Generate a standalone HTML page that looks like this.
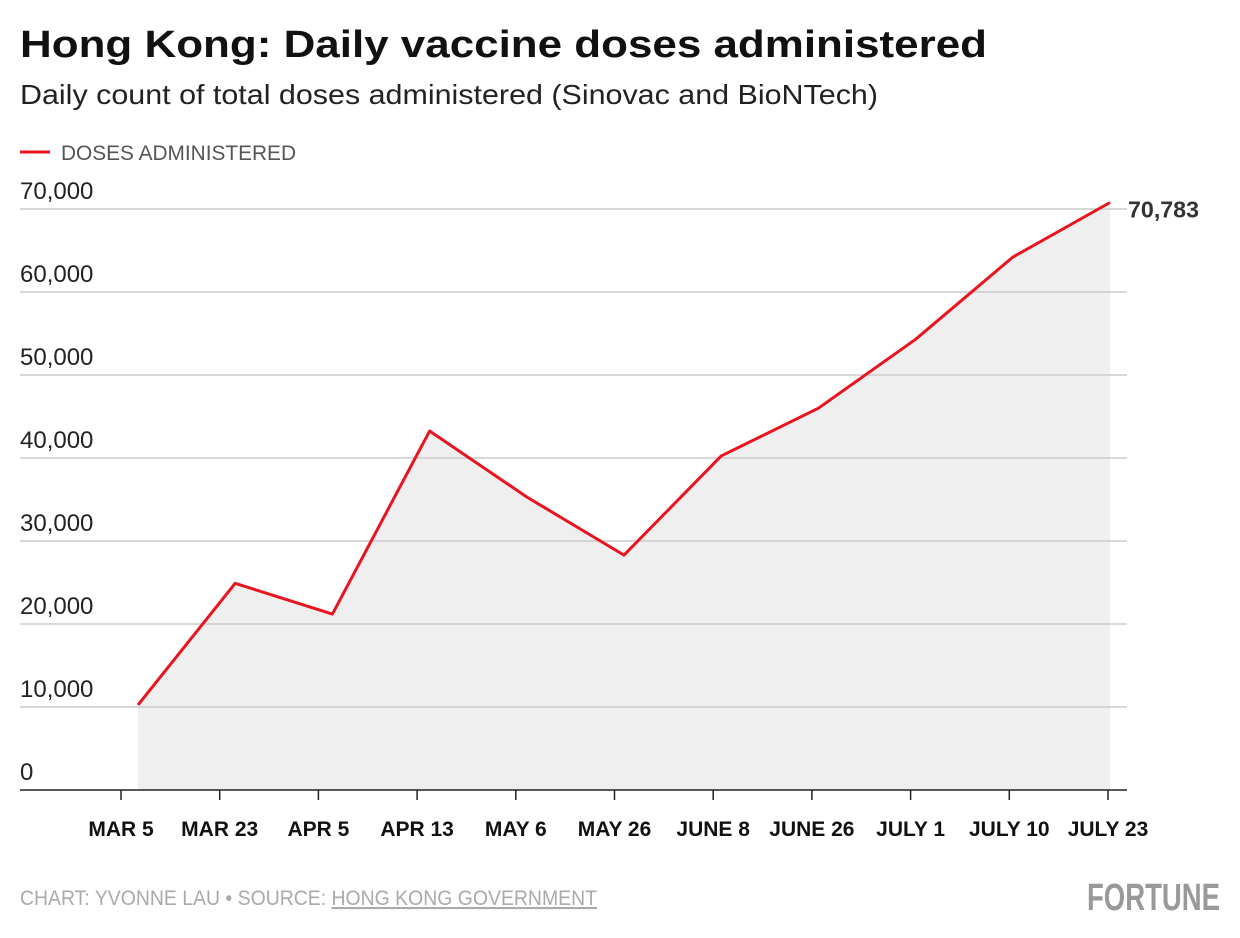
<!DOCTYPE html>
<html><head><meta charset="utf-8"><style>
html,body{margin:0;padding:0;background:#fff;}
svg{display:block;font-family:"Liberation Sans",sans-serif;}
</style></head><body>
<svg id="chart" width="1240" height="938" viewBox="0 0 1240 938">
<text x="20" y="57" font-size="38" font-weight="bold" fill="#111" textLength="967" lengthAdjust="spacingAndGlyphs">Hong Kong: Daily vaccine doses administered</text>
<text x="20" y="104" font-size="28" fill="#222" textLength="858" lengthAdjust="spacingAndGlyphs">Daily count of total doses administered (Sinovac and BioNTech)</text>
<g>
<line x1="20" y1="152" x2="50" y2="152" stroke="#e8141f" stroke-width="3"/>
<text x="61" y="160" font-size="21" fill="#555" textLength="235" lengthAdjust="spacingAndGlyphs">DOSES ADMINISTERED</text>
</g>
<path id="area" fill="#efefef"/>
<g id="grid"></g>
<g id="ylabels"></g>
<g id="xaxis"></g>
<path id="line" fill="none" stroke="#e8141f" stroke-width="3" stroke-linejoin="round"/>
<text id="endlabel" x="1128" font-size="23" font-weight="bold" fill="#333" textLength="71" lengthAdjust="spacingAndGlyphs">70,783</text>
<text x="20" y="905" font-size="21" fill="#aaa" textLength="577" lengthAdjust="spacingAndGlyphs">CHART: YVONNE LAU • SOURCE: <tspan text-decoration="underline">HONG KONG GOVERNMENT</tspan></text>
<text x="1087" y="910" font-size="38" font-weight="bold" fill="#999" textLength="133" lengthAdjust="spacingAndGlyphs">FORTUNE</text>
</svg>
<script>
const categories=["MAR 5","MAR 23","APR 5","APR 13","MAY 6","MAY 26","JUNE 8","JUNE 26","JULY 1","JULY 10","JULY 23"];
const doses=[10250,24900,21200,43250,35300,28300,40250,46000,54300,64200,70783];
const yTicks=[0,10000,20000,30000,40000,50000,60000,70000];
const yTickLabels=["0","10,000","20,000","30,000","40,000","50,000","60,000","70,000"];
const NS="http://www.w3.org/2000/svg";
function y(v){return 790-v*83/10000;}
function xTick(i){return 121+i*(1108-121)/(categories.length-1);}
function xPt(i){return 138+i*(1110-138)/(categories.length-1);}
function mk(t,a,p){const e=document.createElementNS(NS,t);for(const k in a)e.setAttribute(k,a[k]);p.appendChild(e);return e;}
const grid=document.getElementById('grid'),yl=document.getElementById('ylabels'),xa=document.getElementById('xaxis');
yTicks.forEach((v,i)=>{
 if(v>0){const g=mk('line',{x1:20,x2:1127,y1:y(v),y2:y(v),stroke:'#ccc','stroke-width':1.5},grid);
 
 }
 const t=mk('text',{x:20,y:y(v)-10,'font-size':24,fill:'#222'},yl);t.textContent=yTickLabels[i];
 
 
});
const base=mk('line',{x1:20,x2:1127,y1:790,y2:790,stroke:'#222','stroke-width':1.5},xa);


categories.forEach((c,i)=>{
 const tk=mk('line',{x1:xTick(i),x2:xTick(i),y1:790,y2:800,stroke:'#222','stroke-width':1.5},xa);
 
 
 const t=mk('text',{x:xTick(i),y:836,'font-size':21,'font-weight':'bold','text-anchor':'middle',fill:'#111'},xa);t.textContent=c;
 
 
});
let d=doses.map((v,i)=>(i?'L':'M')+xPt(i)+' '+y(v)).join(' ');
document.getElementById('line').setAttribute('d',d);
document.getElementById('area').setAttribute('d',d+' L'+xPt(doses.length-1)+' 790 L'+xPt(0)+' 790 Z');
document.getElementById('endlabel').setAttribute('y',y(doses[doses.length-1])+15);
</script>
</body></html>
